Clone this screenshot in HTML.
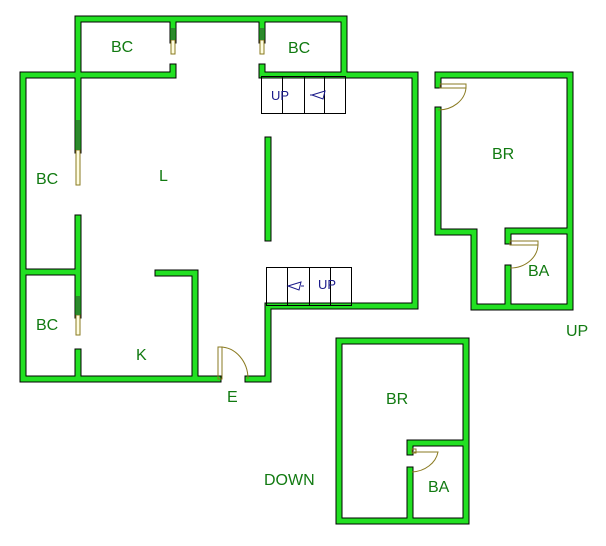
<!DOCTYPE html>
<html><head><style>
html,body{margin:0;padding:0;background:#fff;}
svg{display:block;}
text{font-family:"Liberation Sans",sans-serif;fill:#117a11;font-size:16px;}
.w1{stroke:#000;stroke-width:7;fill:none;stroke-linecap:square;stroke-linejoin:miter;}
.w2{stroke:#22e022;stroke-width:5;fill:none;stroke-linecap:square;stroke-linejoin:miter;}
</style></head><body>
<svg width="606" height="546" viewBox="0 0 606 546">
<defs>
<g id="walls">
<polyline points="78,73 78,19 344,19 344,73"/>
<polyline points="173,67 173,75 23,75 23,379 218,379"/>
<polyline points="248,379 268,379 268,306 415,306 415,75 262,75 262,67"/>
<line x1="173" y1="19" x2="173" y2="40"/>
<line x1="262" y1="19" x2="262" y2="40"/>
<line x1="78" y1="75" x2="78" y2="150"/>
<line x1="78" y1="218" x2="78" y2="315"/>
<line x1="78" y1="352" x2="78" y2="379"/>
<line x1="23" y1="272" x2="78" y2="272"/>
<line x1="268" y1="140" x2="268" y2="238"/>
<polyline points="158,273 195,273 195,379"/>
<polyline points="438,85 438,75 570,75 570,307 474,307 474,232 438,232 438,110"/>
<polyline points="508,241 508,231 570,231"/>
<line x1="508" y1="268" x2="508" y2="307"/>
<rect x="339" y="341" width="127" height="180"/>
<polyline points="410,470 410,521"/>
<polyline points="410,452 410,443 466,443"/>
</g>
</defs>
<use href="#walls" class="w1"/>
<use href="#walls" class="w2"/>
<g stroke="#8a7a20" stroke-width="1" fill="#fffde0">
<rect x="76" y="150" width="4" height="35"/>
<rect x="76" y="315" width="4" height="20"/>
<rect x="171" y="40" width="4" height="14"/>
<rect x="260" y="40" width="4" height="14"/>
</g>
<g fill="#2c8a2c"><rect x="76" y="120" width="4" height="30"/><rect x="76" y="296" width="4" height="19"/><rect x="171" y="28" width="4" height="12"/><rect x="260" y="28" width="4" height="12"/></g>
<g stroke="#8a7a20" stroke-width="1" fill="none">
<rect x="218" y="347" width="4" height="32"/>
<path d="M220,347 A28,32 0 0 1 248,379"/>
<rect x="440" y="84" width="26" height="4"/>
<path d="M466,88 A28,24 0 0 1 438,110"/>
<rect x="510" y="241" width="28" height="4"/>
<path d="M538,245 A28,24 0 0 1 510,268"/>
<rect x="412" y="449" width="4" height="4"/>
<path d="M414,452 L438,452 A28,24 0 0 1 412,472"/>
</g>
<g stroke="#000" stroke-width="1" fill="none">
<rect x="261.5" y="76.5" width="84" height="37"/>
<line x1="282.5" y1="77" x2="282.5" y2="113"/>
<line x1="304.5" y1="77" x2="304.5" y2="113"/>
<line x1="324.5" y1="77" x2="324.5" y2="113"/>
<rect x="266.5" y="267.5" width="85" height="38"/>
<line x1="287.5" y1="268" x2="287.5" y2="305"/>
<line x1="309.5" y1="268" x2="309.5" y2="305"/>
<line x1="330.5" y1="268" x2="330.5" y2="305"/>
</g>
<g stroke="#1a1a8a" stroke-width="1" fill="none">
<path d="M312,95 L325,91 L323,99 Z M310,95 L312,95"/>
<path d="M288,286 L301,282 L299,290 Z M301,286 L304,286"/>
</g>
<text x="271" y="100" style="fill:#1a1a8a;font-size:13px">UP</text>
<text x="318" y="289" style="fill:#1a1a8a;font-size:13px">UP</text>
<text x="111" y="52">BC</text>
<text x="288" y="53">BC</text>
<text x="36" y="184">BC</text>
<text x="36" y="330">BC</text>
<text x="159" y="181">L</text>
<text x="136" y="360">K</text>
<text x="227" y="402">E</text>
<text x="492" y="159">BR</text>
<text x="528" y="276">BA</text>
<text x="566" y="336">UP</text>
<text x="386" y="404">BR</text>
<text x="428" y="492">BA</text>
<text x="264" y="485">DOWN</text>
</svg>
</body></html>
